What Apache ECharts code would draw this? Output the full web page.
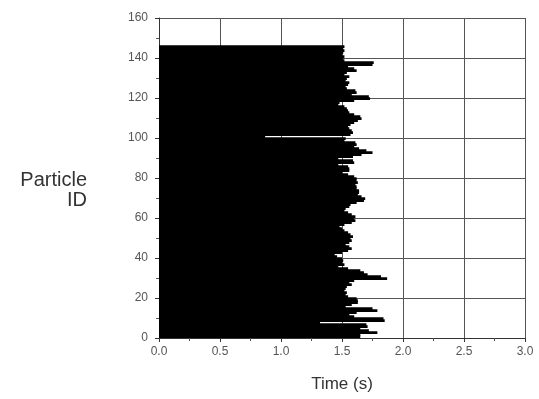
<!DOCTYPE html>
<html>
<head>
<meta charset="utf-8">
<script src="https://cdn.jsdelivr.net/npm/echarts@6/dist/echarts.min.js"></script>
<style>html,body{margin:0;padding:0;background:#fff;}#c{width:539px;height:399px;}</style>
</head>
<body>
<div id="c"></div>
<script>
// Particle IDs 0..145 and the time (s) each bar reaches
const particleIds = Array.from({length: 146}, (_, i) => i);
const times = [
  1.65,1.65,1.79,1.72,1.65,1.71,1.70,1.32,1.85,1.84,
  1.60,1.56,1.62,1.79,1.75,1.53,1.58,1.63,1.63,1.62,
  1.55,1.53,1.54,1.52,1.53,1.54,1.58,1.56,1.60,1.87,
  1.82,1.71,1.68,1.65,1.55,1.47,1.52,1.50,1.51,1.50,
  1.46,1.44,1.50,1.55,1.58,1.56,1.53,1.56,1.58,1.57,
  1.59,1.57,1.55,1.52,1.50,1.48,1.52,1.58,1.61,1.60,
  1.61,1.58,1.55,1.52,1.53,1.56,1.57,1.62,1.68,1.69,
  1.66,1.63,1.64,1.64,1.62,1.62,1.61,1.63,1.62,1.62,
  1.60,1.55,1.50,1.56,1.56,1.55,1.47,1.60,1.59,1.47,
  1.59,1.66,1.75,1.70,1.64,1.60,1.62,1.61,1.52,1.53,
  0.87,1.57,1.59,1.58,1.56,1.55,1.57,1.60,1.63,1.66,
  1.65,1.60,1.56,1.55,1.54,1.52,1.47,1.48,1.60,1.73,
  1.72,1.58,1.62,1.61,1.54,1.53,1.55,1.56,1.53,1.54,
  1.56,1.52,1.54,1.62,1.60,1.55,1.75,1.76,1.52,1.51,
  1.52,1.50,1.51,1.52,1.51,1.52
];
const xTicks = [0, 0.5, 1.0, 1.5, 2.0, 2.5, 3.0];
const yTicks = [0, 20, 40, 60, 80, 100, 120, 140, 160];

const data = particleIds.map((id, i) => [times[i], id]);
const chart = echarts.init(document.getElementById('c'), null, {renderer: 'canvas'});
const font = 'Liberation Sans, Arial, sans-serif';
chart.setOption({
  animation: false,
  backgroundColor: '#fff',
  grid: {left: 159, right: 14, top: 18, bottom: 61, containLabel: false},
  xAxis: {
    type: 'value', min: xTicks[0], max: xTicks[xTicks.length - 1], interval: 0.5,
    name: 'Time (s)', nameLocation: 'middle', nameGap: 38,
    nameTextStyle: {fontFamily: font, fontSize: 17, color: '#333'},
    axisLine: {show: true, lineStyle: {color: '#333', width: 1}},
    axisTick: {show: true, inside: false, length: 4, lineStyle: {color: '#333'}},
    minorTick: {show: true, splitNumber: 2, length: 3, lineStyle: {color: '#555'}},
    axisLabel: {fontFamily: font, fontSize: 12, color: '#555', margin: 8,
      formatter: v => v.toFixed(1)},
    splitLine: {show: true, lineStyle: {color: '#555', width: 1}}
  },
  yAxis: {
    type: 'value', min: yTicks[0], max: yTicks[yTicks.length - 1], interval: 20,
    axisLine: {show: true, lineStyle: {color: '#333', width: 1}},
    axisTick: {show: true, inside: false, length: 4, lineStyle: {color: '#333'}},
    minorTick: {show: true, splitNumber: 2, length: 3, lineStyle: {color: '#555'}},
    axisLabel: {fontFamily: font, fontSize: 12, color: '#555', margin: 11},
    splitLine: {show: true, lineStyle: {color: '#555', width: 1}}
  },
  graphic: [{
    type: 'text', x: 87, y: 170,
    style: {text: 'Particle\nID', fontFamily: font, fontSize: 20, fill: '#333', lineHeight: 20, align: 'right'}
  }],
  series: [{
    type: 'custom',
    data: data,
    renderItem: function (params, api) {
      const t = api.value(0), id = api.value(1);
      const p0 = api.coord([0, id + 1.4]);
      const p1 = api.coord([t, id]);
      return {
        type: 'rect',
        shape: {x: p0[0], y: p0[1], width: p1[0] - p0[0], height: p1[1] - p0[1]},
        style: {fill: '#000'}
      };
    },
    encode: {x: 0, y: 1}
  }]
});
</script>
</body>
</html>
